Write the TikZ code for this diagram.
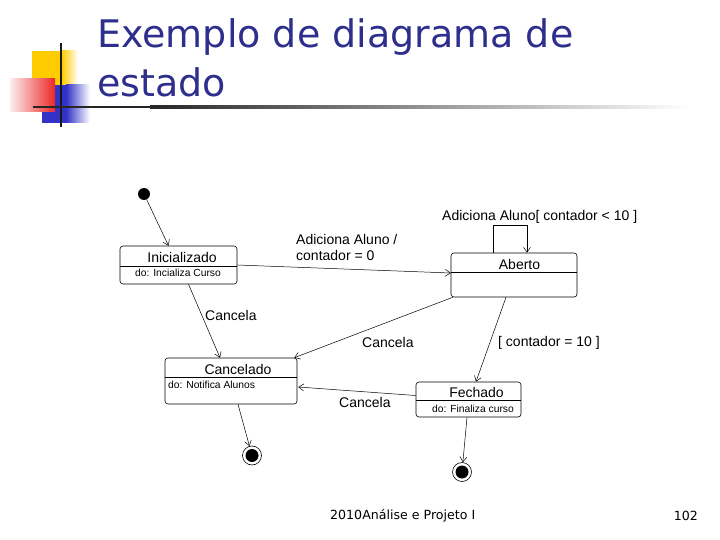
\documentclass[tikz,border=0pt]{standalone}
\usepackage{fontspec}
\setmainfont{Liberation Sans}
\newfontfamily\titlefont{DejaVu Sans}
\usetikzlibrary{arrows.meta,calc}
\definecolor{titleblue}{RGB}{46,46,140}
\definecolor{decoblue}{RGB}{50,50,200}
\definecolor{decored}{RGB}{235,40,40}
\definecolor{decoyellow}{RGB}{255,204,0}
\begin{document}
\begin{tikzpicture}[x=1pt,y=-1pt,
  statebox/.style={draw,rounded corners=3pt,line width=0.6pt,inner sep=0pt},
  divider/.style={line width=0.6pt},
  arr/.style={line width=0.5pt,-{Straight Barb[length=5pt,width=7pt]}},
  lbl/.style={inner sep=0pt,anchor=west,font=\fontsize{14}{16}\selectfont},
  ttl/.style={inner sep=0pt,font=\fontsize{14}{16}\selectfont},
  act/.style={inner sep=0pt,anchor=west,font=\fontsize{10.3}{12}\selectfont},
  foot/.style={inner sep=0pt,font=\titlefont\fontsize{12.6}{15}\selectfont},
  heading/.style={inner sep=0pt,anchor=base west,text=titleblue,font=\titlefont\fontsize{38}{50}\selectfont}]
\useasboundingbox (0,0) rectangle (720,540);
% decoration
\fill[decoyellow] (32,51) rectangle (62,85);
\shade[left color=decoyellow, right color=white] (62,51) rectangle (78,85);
\fill[decoblue] (42,85) rectangle (66,123);
\shade[left color=decoblue, right color=white] (66,85) rectangle (90,123);
\shade[left color=decored!8!white, right color=decored] (10,79) rectangle (55,112);
\draw[line width=1.6pt,black!90] (61,43) -- (61,127);
\fill[black!85] (33,105.8) rectangle (150,108.4);
\shade[left color=black!85, right color=white] (150,105.8) rectangle (690,108.4);
% title
\node[heading] (t1) at (97,48) {Exemplo de diagrama de};
\node[heading] (t2) at (97,97) {estado};
% states
\node[circle,fill=black,inner sep=0pt,minimum size=12pt] (init) at (144,194) {};
\node[statebox,minimum width=117pt,minimum height=38pt] (ini) at (178.5,265) {};
\draw[divider] (ini.west |- 0,266) -- (ini.east |- 0,266);
\node[ttl] (iniT) at (182,257) {Inicializado};
\node[act] (iniA) at (135,272.5) {do: Incializa Curso};

\node[statebox,minimum width=126pt,minimum height=44pt] (abe) at (514,275) {};
\draw[divider] (abe.west |- 0,272) -- (abe.east |- 0,272);
\node[ttl] (abeT) at (519.5,264.5) {Aberto};

\node[statebox,minimum width=132pt,minimum height=46pt] (can) at (231,381) {};
\draw[divider] (can.west |- 0,377) -- (can.east |- 0,377);
\node[ttl] (canT) at (238,369) {Cancelado};
\node[act] (canA) at (168,384.5) {do: Notifica Alunos};

\node[statebox,minimum width=105pt,minimum height=35pt] (fec) at (468.5,399.5) {};
\draw[divider] (fec.west |- 0,400) -- (fec.east |- 0,400);
\node[ttl] (fecT) at (476.5,392) {Fechado};
\node[act] (fecA) at (432,408.5) {do: Finaliza curso};

\node[circle,draw,line width=0.6pt,inner sep=0pt,minimum size=19pt] (fin1) at (252,455.5) {};
\fill (fin1.center) circle (6.5);
\node[circle,draw,line width=0.6pt,inner sep=0pt,minimum size=19pt] (fin2) at (462,472) {};
\fill (fin2.center) circle (6.5);

% transitions
\draw[arr] (init) -- ([xshift=-10pt]ini.north);
\draw[arr] (ini.east) -- ([yshift=2pt]abe.west);
\draw[arr] ([xshift=-21pt]abe.north) -- ++(0,-27) -| ([xshift=13pt]abe.north);
\draw[arr] ([xshift=10pt]ini.south) -- ([xshift=-11pt]can.north);
\draw[arr] ([xshift=2pt]abe.south west) -- ([xshift=-3pt]can.north east);
\draw[arr] ([xshift=-8pt]abe.south) -- ([xshift=7.5pt]fec.north);
\draw[arr] ([yshift=4pt]fec.west) -- ([xshift=1pt,yshift=-6pt]can.east);
\draw[arr] ([xshift=7pt]can.south) -- (fin1);
\draw[arr] ([xshift=-1.5pt]fec.south) -- (fin2);

% labels
\node[lbl] (l1) at (442,217) {Adiciona Aluno[ contador < 10 ]};
\node[lbl,align=left] (l2) at (296,247.5) {Adiciona Aluno /\\ contador = 0};
\node[lbl] (l3) at (205,315) {Cancela};
\node[lbl] (l4) at (362,342) {Cancela};
\node[lbl] (l5) at (498,343) {[ contador = 10 ]};
\node[lbl] (l6) at (339,402) {Cancela};

% footer
\node[foot,anchor=west] (f1) at (330,516) {2010Análise e Projeto I};
\node[foot,anchor=east] (f2) at (698,516) {102};
\end{tikzpicture}
\end{document}
